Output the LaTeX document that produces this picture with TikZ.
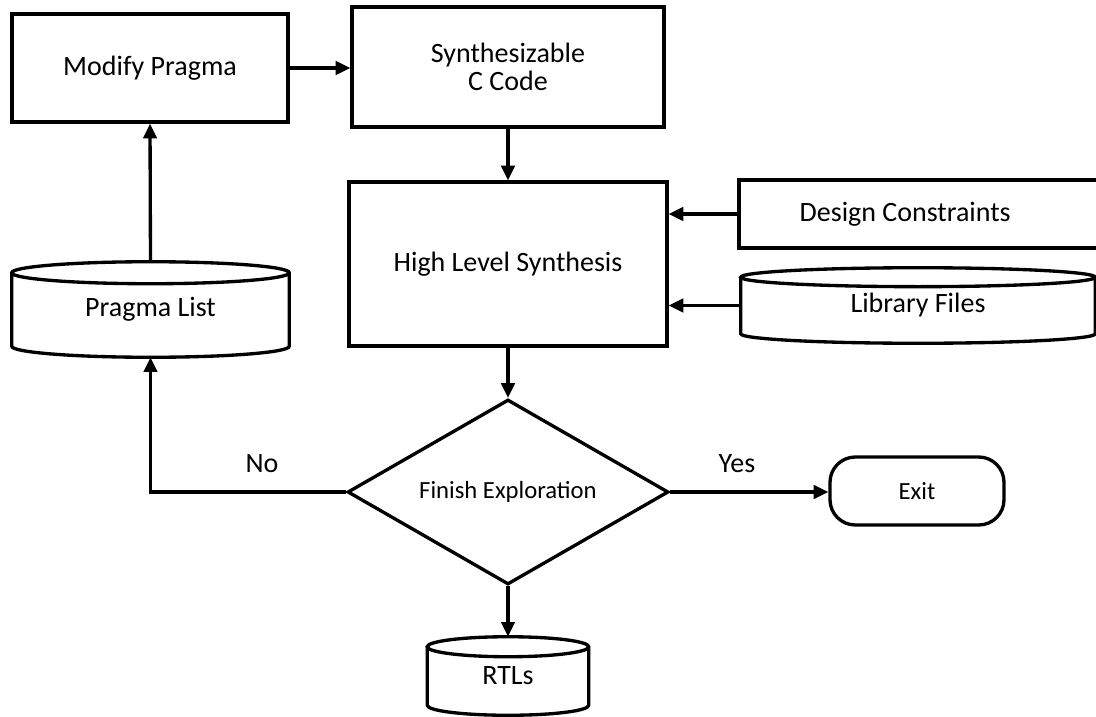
\documentclass[tikz,border=0pt]{standalone}
\usepackage{fontspec}
\setmainfont{Carlito}
\usetikzlibrary{arrows.meta,shapes.geometric,calc}

\tikzset{
  txt/.style={font=\fontsize{21}{21}\selectfont, align=center},
  smalltxt/.style={font=\fontsize{18.5}{20}\selectfont},
  stepbox/.style={draw, line width=2.5pt, fill=white, rectangle, inner sep=0pt, txt},
  cylbody/.style={rectangle, inner sep=0pt, txt},
  decision/.style={draw, line width=2.5pt, fill=white, diamond, aspect=1.735, inner sep=0pt, smalltxt},
  terminal/.style={draw, line width=2.5pt, fill=white, rectangle, rounded corners=19pt, inner sep=0pt, smalltxt},
  flow/.style={line width=2.5pt, -{Triangle[length=11pt,width=10pt]}}
}

% database symbol drawn around a named node: #1 node, #2 ellipse half-height
\newcommand{\drawdrum}[2]{%
  \draw[line width=2.5pt, fill=white]
    let \p1=(#1.north west), \p2=(#1.south east), \n1={(\x2-\x1)/2} in
    (\x1,\y1-#2) -- (\x1,\y2+#2)
    arc[start angle=180, end angle=360, x radius=\n1, y radius=#2]
    -- (\x2,\y1-#2)
    arc[start angle=0, end angle=180, x radius=\n1, y radius=#2]
    arc[start angle=180, end angle=360, x radius=\n1, y radius=#2];
}

\begin{document}
\begin{tikzpicture}[x=0.75pt, y=-0.75pt]
\useasboundingbox (0,0) rectangle (1096,717);
\clip (0,0) rectangle (1096,717);

% process boxes
\node[stepbox, minimum width=207pt, minimum height=81pt] (mod) at (150,68) {Modify Pragma};
\node[stepbox, minimum width=234pt, minimum height=90pt] (syn) at (508,67) {Synthesizable\\C Code};
\node[stepbox, minimum width=238.5pt, minimum height=123pt] (hls) at (508,264) {High Level Synthesis};
\node[stepbox, minimum width=272.25pt, minimum height=51pt] (dc) at (920.5,214) {Design Constraints\hspace{23pt}};

% data stores
\node[cylbody, minimum width=207.75pt, minimum height=71.25pt] (pl) at (150.5,309.5) {};
\drawdrum{pl}{8.25pt}
\node[txt] (pltxt) at (pl.center) {Pragma List};

\node[cylbody, minimum width=265.5pt, minimum height=56.25pt] (lib) at (918,305.5) {};
\drawdrum{lib}{7.1pt}
\node[txt] (libtxt) at (lib.center) {Library Files};

\node[cylbody, minimum width=120.75pt, minimum height=58.5pt] (rtl) at (508,676) {};
\drawdrum{rtl}{7.5pt}
\node[txt] (rtltxt) at (rtl.center) {RTLs};

% decision and exit
\node[decision, minimum width=240.75pt, minimum height=138.75pt] (dec) at (508,492) {Finish Exploration};
\node[terminal, minimum width=130.5pt, minimum height=51pt] (exit) at (917,491) {Exit};

% connectors
\draw[flow] (mod.east) -- (mod.east -| syn.west);
\draw[flow] (syn.south) -- (hls.north);
\draw[flow] (dc.west) -- (dc.west -| hls.east);
\draw[flow] (lib.west) -- (lib.west -| hls.east);
\draw[flow] (hls.south) -- (dec.north);
\draw[flow] (dec.east) -- (dec.east -| exit.west);
\draw[flow] (dec.south) -- (rtl.north);
\draw[flow] (dec.west) -| (pl.south);
\draw[flow] (pl.north) -- (mod.south);

% branch labels
\node[txt] (nolbl) at (262,464) {No};
\node[txt] (yeslbl) at (737,464) {Yes};
\end{tikzpicture}
\end{document}
